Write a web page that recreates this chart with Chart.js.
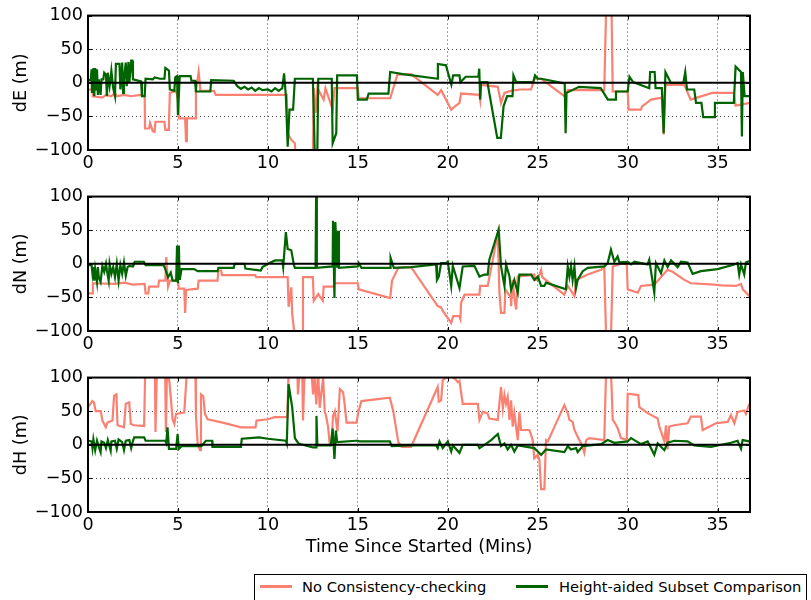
<!DOCTYPE html>
<html><head><meta charset="utf-8">
<script src="https://cdn.jsdelivr.net/npm/chart.js@4"></script>
<style>
body{margin:0;background:#fff;width:811px;height:600px;overflow:hidden;position:relative;}
.panel{position:absolute;left:0;width:811px;}
#legend{position:absolute;left:254px;top:574px;width:553px;height:40px;border:1px solid #000;box-sizing:border-box;font-family:"DejaVu Sans",sans-serif;font-size:14.7px;color:#000;background:#fff;}
#legend .sw{position:absolute;top:10px;width:32px;height:3px;}
#legend .tx{position:absolute;top:2px;white-space:nowrap;line-height:20px;}
</style></head>
<body>
<div class="panel" style="top:0"><canvas id="c1" width="811" height="180" style="width:811px;height:180px"></canvas></div>
<div class="panel" style="top:181px"><canvas id="c2" width="811" height="180" style="width:811px;height:180px"></canvas></div>
<div class="panel" style="top:362px"><canvas id="c3" width="811" height="200" style="width:811px;height:200px"></canvas></div>
<div id="legend">
  <div class="sw" style="left:5px;background:#fa8072"></div><div class="tx" style="left:47px">No Consistency-checking</div>
  <div class="sw" style="left:261px;background:#006400"></div><div class="tx" style="left:304px">Height-aided Subset Comparison</div>
</div>
<script>
const X_TICKS = [0,5,10,15,20,25,30,35];
const Y_TICKS = [-100,-50,0,50,100];
const X_MAX = 36.8;
const SERIES_NAMES = ['No Consistency-checking','Height-aided Subset Comparison'];

const dE_noCheck = [[0,-10],[0.25,-10],[0.27,-20],[0.8,-22],[1.0,-18],[1.3,-20],[1.5,-15],[1.6,-20],[2.0,-18],[2.4,-20],[2.9,-18],[3.15,-20],[3.17,-68],[3.4,-68],[3.45,-60],[3.6,-72],[3.7,-73],[3.75,-58],[4.25,-58],[4.3,-70],[4.45,-70],[4.5,-60],[4.55,-15],[4.9,-12],[5.0,-25],[5.05,-53],[5.4,-53],[5.45,-87],[5.5,-53],[5.95,-53],[6.0,-12],[6.15,16],[6.25,-12],[7.0,-12],[7.1,-18],[11.05,-18],[11.1,-75],[11.3,-85],[11.5,-90],[11.55,-115],[12.5,-115],[12.55,-8],[12.65,-45],[12.75,-8],[13.1,-25],[13.2,-8],[13.6,-40],[13.7,-8],[15.0,-8],[15.05,-23],[16.8,-23],[17.2,12],[17.96,13],[19.44,-18],[19.63,-11],[20.19,-40],[20.4,-35],[20.65,-30],[20.74,-16],[21.76,-18],[21.8,-25],[21.85,-3],[22.78,-6],[22.96,-30],[23.15,-15],[23.5,-12],[24.0,-10],[24.63,-10],[24.81,6],[25.19,6],[26.48,-20],[26.67,-11],[28.7,-11],[28.8,110],[29.1,110],[29.17,-13],[30.0,-13],[30.05,-40],[30.74,-40],[30.8,-35],[31.3,-25],[31.9,-22],[32.0,-77],[32.1,-3],[33.15,-3],[33.5,-25],[34.7,-15],[35.9,-15],[36.0,-34],[36.8,-30]];

const dE_subset = [[0,4],[0.15,4],[0.2,20],[0.22,-15],[0.3,22],[0.35,-20],[0.4,22],[0.45,-10],[0.5,20],[0.55,-18],[0.6,5],[0.7,-18],[0.75,5],[0.85,5],[0.9,15],[1.0,12],[1.05,-20],[1.1,15],[1.2,-5],[1.25,5],[1.3,18],[1.4,-8],[1.5,-20],[1.55,28],[1.75,28],[1.8,-10],[1.9,30],[1.95,-15],[2.0,5],[2.1,30],[2.15,-5],[2.2,10],[2.25,31],[2.3,0],[2.4,33],[2.45,33],[2.5,5],[2.95,2],[3.0,-20],[3.15,-20],[3.2,6],[3.6,5],[3.7,8],[4.0,6],[4.25,6],[4.3,22],[4.5,18],[4.55,-10],[4.8,-12],[4.85,8],[4.95,10],[5.0,-48],[5.1,10],[5.7,10],[5.75,3],[5.95,3],[6.0,-13],[6.8,-13],[6.85,4],[8.1,3],[8.3,-5],[8.5,-9],[8.7,-6],[8.9,-10],[9.1,-7],[9.3,-12],[9.5,-8],[9.7,-11],[10.0,-10],[10.2,-13],[10.4,-8],[10.6,-12],[10.8,-8],[10.9,14],[11.0,-20],[11.1,-95],[11.2,-40],[11.4,-40],[11.5,6],[12.5,6],[12.6,-100],[12.75,-100],[12.8,6],[13.55,6],[13.6,-90],[13.8,-75],[13.85,11],[14.95,11],[15.0,-25],[15.5,-25],[15.6,-16],[16.7,-16],[16.8,16],[17.5,13],[19.44,6],[19.45,28],[19.9,26],[20.0,16],[20.2,-3],[20.3,11],[20.65,11],[20.7,1],[21.0,9],[21.7,9],[21.75,21],[21.8,-25],[21.85,1],[22.2,1],[22.75,-82],[22.95,-82],[23.1,-35],[23.3,-20],[23.6,-20],[23.65,11],[23.8,1],[24.75,1],[24.85,11],[25.0,6],[25.2,6],[26.5,-1],[26.55,-75],[26.6,-15],[27.3,-6],[28.5,-8],[28.9,-25],[29.3,-25],[29.35,-13],[30.0,-13],[30.1,9],[30.3,1],[31.2,-8],[31.25,16],[31.5,16],[31.55,-8],[31.9,-8],[32.0,-75],[32.1,16],[32.4,0],[33.1,0],[33.2,16],[33.3,-10],[33.7,-10],[33.8,-30],[34.1,-30],[34.2,-51],[34.8,-51],[34.85,-30],[35.9,-30],[36.0,24],[36.3,16],[36.35,-80],[36.4,16],[36.5,-20],[36.8,-20]];

const dN_noCheck = [[0,-44],[0.25,-44],[0.27,-29],[1.5,-30],[2.0,-28],[2.5,-31],[3.15,-30],[3.2,-44],[3.35,-44],[3.4,-34],[3.9,-34],[3.95,-25],[4.3,-25],[4.35,10],[4.45,-34],[4.55,-25],[5.0,-25],[5.05,-37],[5.35,-37],[5.4,-73],[5.45,-39],[6.1,-37],[6.15,-25],[7.2,-25],[7.25,-10],[7.4,-10],[7.45,-17],[9.3,-17],[9.35,-20],[11.1,-20],[11.15,-64],[11.3,-35],[11.35,-74],[11.5,-110],[11.9,-110],[11.95,-20],[12.5,-20],[12.55,-55],[12.8,-45],[13.05,-55],[13.1,-34],[13.65,-34],[13.7,-29],[15.0,-29],[15.05,-38],[16.8,-51],[16.9,-25],[17.25,-6],[17.96,-5],[19.44,-63],[19.63,-65],[19.72,-70],[20.19,-88],[20.3,-78],[20.65,-78],[20.7,-82],[20.74,-58],[20.93,-46],[21.76,-46],[21.8,-33],[22.22,-33],[22.78,45],[22.87,-43],[22.96,-73],[23.15,-73],[23.2,-38],[23.5,-50],[23.52,-63],[23.61,-24],[23.7,-50],[23.8,-68],[23.89,-19],[24.81,-16],[24.85,-24],[25.0,-24],[25.19,-9],[25.25,-20],[26.48,-46],[26.67,-33],[27.04,-48],[27.13,-24],[27.78,-16],[28.52,-9],[28.7,-4],[28.8,-110],[29.07,-110],[29.17,-4],[29.63,0],[29.95,0],[30.0,-38],[30.56,-43],[30.74,-33],[31.48,-31],[32.04,-14],[32.22,-9],[32.5,-12],[33.15,-24],[33.52,-29],[34.81,-31],[35.2,-32],[36.02,-33],[36.3,-30],[36.4,-38],[36.76,-48]];

const dN_subset = [[0,-2],[0.2,-2],[0.25,-15],[0.3,-5],[0.35,-25],[0.4,-8],[0.5,-27],[0.55,-5],[0.6,-20],[0.7,-27],[0.8,-3],[0.9,-12],[1.0,0],[1.05,-10],[1.15,-25],[1.2,0],[1.3,-15],[1.4,-5],[1.5,-20],[1.6,0],[1.7,-25],[1.8,-2],[1.9,-15],[2.0,2],[2.1,-18],[2.2,-5],[2.3,-3],[2.5,-4],[2.6,3],[3.1,3],[3.2,-2],[4.2,-2],[4.3,-8],[4.45,-20],[4.6,-13],[4.7,-25],[4.9,-25],[4.95,27],[5.0,-29],[5.05,27],[5.1,-24],[5.2,-8],[5.9,-8],[6.1,-11],[7.2,-11],[7.25,-6],[8.1,-6],[8.15,0],[8.7,0],[8.75,-7],[9.6,-10],[9.7,-5],[10.0,0],[10.4,5],[10.8,5],[10.85,-5],[11.0,47],[11.1,22],[11.3,20],[11.45,-2],[11.5,-6],[12.65,-6],[12.68,100],[12.72,-6],[13.6,-4],[13.62,64],[13.7,-51],[13.75,62],[13.85,-6],[13.9,49],[13.95,-6],[15.0,-4],[15.05,1],[15.2,-6],[16.8,-6],[16.82,9],[17.0,-6],[17.96,-5],[19.35,-1],[19.4,-24],[19.5,-19],[19.63,1],[19.9,1],[20.0,3],[20.19,-33],[20.28,-3],[20.65,-36],[20.83,-4],[21.48,-3],[21.76,-19],[22.04,-16],[22.22,-16],[22.31,6],[22.83,51],[22.96,-4],[23.15,-33],[23.24,-1],[23.43,-19],[23.52,-39],[23.7,-24],[23.89,-43],[23.98,-16],[24.63,-16],[24.81,-24],[25.0,-19],[25.19,-33],[25.37,-33],[25.46,-28],[26.57,-38],[26.67,-4],[26.76,-19],[26.85,-4],[26.94,-24],[27.04,-4],[27.13,-36],[27.22,-24],[27.5,-11],[27.78,-6],[28.7,-4],[28.89,1],[29.07,21],[29.26,3],[29.44,11],[29.54,2],[30.0,3],[30.19,-1],[30.37,3],[31.11,-1],[31.2,6],[31.48,-43],[31.57,1],[31.85,-14],[32.04,5],[32.22,-5],[32.41,5],[32.78,-5],[32.96,3],[33.33,2],[33.61,-15],[34.07,-11],[35.0,-8],[35.93,-1],[36.11,1],[36.2,-16],[36.3,-1],[36.48,-16],[36.57,2],[36.76,4]];

const dH_noCheck = [[0,56],[0.24,65],[0.33,63],[0.43,50],[0.71,50],[0.8,36],[0.99,26],[1.08,33],[1.36,36],[1.45,73],[1.58,75],[1.64,29],[2.0,26],[2.1,61],[2.29,63],[2.38,31],[2.57,29],[3.12,28],[3.18,110],[3.72,110],[3.75,19],[3.83,110],[4.29,110],[4.33,19],[4.39,110],[4.52,95],[4.61,68],[4.7,38],[4.8,31],[4.89,46],[5.35,48],[5.5,110],[5.97,110],[6.0,43],[6.1,0],[6.23,-8],[6.28,75],[6.41,72],[6.5,46],[6.65,38],[7.49,33],[8.51,26],[9.31,26],[9.37,36],[10.0,38],[10.37,41],[11.08,41],[11.15,110],[11.64,110],[11.67,75],[11.77,110],[11.91,110],[11.95,36],[12.04,110],[12.42,110],[12.51,75],[12.6,100],[12.69,60],[12.79,110],[12.88,55],[13.07,100],[13.16,50],[13.25,41],[13.35,26],[13.44,0],[13.53,0],[13.62,43],[13.72,50],[13.87,20],[14.0,83],[14.18,78],[14.27,60],[14.37,33],[14.93,33],[15.02,48],[15.2,65],[16.78,70],[16.97,50],[17.25,4],[17.43,-3],[17.96,-3],[19.44,86],[19.5,64],[19.63,66],[19.72,96],[19.91,100],[20.19,102],[20.4,98],[20.56,93],[20.65,95],[20.74,78],[20.83,61],[21.67,61],[21.76,37],[21.94,49],[22.2,47],[22.31,39],[22.78,37],[22.96,86],[23.06,54],[23.15,74],[23.24,61],[23.33,71],[23.43,37],[23.52,66],[23.61,27],[23.7,47],[23.89,7],[23.98,49],[24.07,22],[24.54,22],[24.72,7],[24.81,-20],[25.0,-15],[25.09,-22],[25.19,-66],[25.37,-66],[25.46,7],[25.56,5],[26.48,59],[26.67,47],[26.76,37],[26.94,34],[27.04,22],[27.22,12],[27.41,2],[27.5,-5],[27.59,-12],[27.69,7],[27.87,10],[28.7,7],[28.8,110],[29.07,110],[29.17,37],[29.3,32],[29.44,25],[29.63,10],[29.95,7],[30.0,76],[30.59,74],[30.65,56],[31.11,47],[31.67,39],[31.76,27],[32.04,5],[32.13,29],[32.22,-7],[32.31,27],[32.59,29],[33.33,32],[33.52,42],[34.07,42],[34.17,22],[34.91,32],[35.56,34],[35.74,44],[35.93,32],[36.11,49],[36.48,51],[36.57,46],[36.76,61]];

const dH_subset = [[0,6],[0.2,5],[0.25,-5],[0.3,8],[0.4,-8],[0.5,6],[0.6,-3],[0.7,-11],[0.75,5],[0.9,3],[1.0,-5],[1.1,7],[1.26,-9],[1.3,5],[1.5,6],[1.6,-6],[1.7,8],[1.9,4],[2.0,-8],[2.1,6],[2.3,7],[2.4,-5],[2.5,6],[2.57,11],[3.12,11],[3.2,6],[4.3,6],[4.35,3],[4.42,26],[4.5,-6],[4.9,-6],[4.98,16],[5.05,-6],[5.2,-2],[6.3,-2],[6.55,6],[6.9,6],[6.92,-3],[8.5,-3],[8.55,9],[9.0,10],[9.5,11],[10.0,9],[11.0,6],[11.05,2],[11.15,90],[11.35,56],[11.5,10],[11.7,2],[12.5,-4],[12.68,-4],[12.7,43],[12.75,-1],[13.5,-1],[13.6,24],[13.7,-21],[13.78,21],[13.85,4],[14.9,6],[15.0,6],[15.1,5],[16.78,5],[16.88,-2],[17.96,-1],[19.35,-1],[19.44,-5],[19.54,5],[19.72,-5],[20.0,5],[20.19,-10],[20.28,-1],[20.65,-12],[20.83,0],[21.67,0],[21.76,-5],[22.04,0],[22.41,7],[22.78,16],[22.96,-2],[23.15,2],[23.33,-7],[23.52,0],[23.7,-10],[23.89,-1],[24.81,-5],[25.0,-10],[25.19,-15],[25.46,-7],[26.48,-11],[26.67,-2],[26.85,-7],[27.13,-5],[27.22,-11],[27.5,-2],[28.52,1],[28.89,7],[29.26,3],[30.0,5],[30.19,10],[30.37,7],[30.74,1],[31.11,5],[31.48,-15],[31.67,2],[32.04,-8],[32.22,3],[32.59,6],[33.33,5],[33.7,-1],[34.63,-3],[35.19,0],[35.74,3],[36.11,6],[36.3,-6],[36.39,7],[36.76,5]];

const RED = '#fa8072';
const GREEN = '#006400';
const FONT = "'DejaVu Sans', sans-serif";
const FONT_SIZE = 17.6;

const framePlugin = {
  id: 'frame',
  afterDatasetsDraw(chart) {
    const {ctx, chartArea: a, scales: {x, y}} = chart;
    ctx.save();
    ctx.strokeStyle = '#000';
    ctx.lineWidth = 2;
    const y0 = y.getPixelForValue(0);
    ctx.beginPath(); ctx.moveTo(a.left, y0); ctx.lineTo(a.right, y0); ctx.stroke();
    ctx.lineWidth = 1;
    ctx.beginPath();
    x.ticks.forEach(t => {
      const px = Math.round(x.getPixelForValue(t.value)) + 0.5;
      ctx.moveTo(px, a.top); ctx.lineTo(px, a.top + 4);
      ctx.moveTo(px, a.bottom); ctx.lineTo(px, a.bottom - 4);
    });
    y.ticks.forEach(t => {
      const py = Math.round(y.getPixelForValue(t.value)) + 0.5;
      ctx.moveTo(a.left, py); ctx.lineTo(a.left + 4, py);
      ctx.moveTo(a.right, py); ctx.lineTo(a.right - 4, py);
    });
    ctx.stroke();
    ctx.lineWidth = 2;
    ctx.strokeRect(a.left, a.top, a.right - a.left, a.bottom - a.top);
    ctx.restore();
  }
};

function toXY(arr) { return arr.map(p => ({x: p[0], y: p[1]})); }

function makeChart(id, yTitle, red, green, showXTitle, xHeight) {
  return new Chart(document.getElementById(id), {
    type: 'line',
    data: {
      datasets: [
        {label: SERIES_NAMES[1], data: toXY(green), borderColor: GREEN, borderWidth: 2.2, order: 1},
        {label: SERIES_NAMES[0], data: toXY(red), borderColor: RED, borderWidth: 2.2, order: 2}
      ]
    },
    options: {
      responsive: false,
      animation: false,
      events: [],
      layout: {padding: {top: 15, right: 61, left: 0, bottom: 0}},
      elements: {point: {radius: 0}, line: {tension: 0}},
      plugins: {legend: {display: false}, tooltip: {enabled: false}},
      scales: {
        x: {
          type: 'linear', min: 0, max: X_MAX,
          afterBuildTicks: s => { s.ticks = X_TICKS.map(v => ({value: v})); },
          afterFit: s => { s.height = xHeight; },
          ticks: {font: {family: FONT, size: FONT_SIZE}, color: '#000', padding: 3, maxRotation: 0, autoSkip: false},
          grid: {color: 'rgba(0,0,0,0.75)', lineWidth: 1, drawTicks: false},
          border: {display: false, dash: [1, 3]},
          title: {display: showXTitle, text: 'Time Since Started (Mins)', font: {family: FONT, size: FONT_SIZE}, color: '#000', padding: {top: 0, bottom: 4}}
        },
        y: {
          min: -100, max: 100,
          afterBuildTicks: s => { s.ticks = Y_TICKS.map(v => ({value: v})); },
          afterFit: s => { s.width = 88; },
          ticks: {font: {family: FONT, size: FONT_SIZE}, color: '#000', padding: 5,
                  callback: v => v < 0 ? '\u2212' + Math.abs(v) : String(v)},
          grid: {color: 'rgba(0,0,0,0.75)', lineWidth: 1, drawTicks: false},
          border: {display: false, dash: [1, 3]},
          title: {display: true, text: yTitle, font: {family: FONT, size: FONT_SIZE}, color: '#000', padding: {top: 11, bottom: 0}}
        }
      }
    },
    plugins: [framePlugin]
  });
}

makeChart('c1', 'dE (m)', dE_noCheck, dE_subset, false, 30);
makeChart('c2', 'dN (m)', dN_noCheck, dN_subset, false, 30);
makeChart('c3', 'dH (m)', dH_noCheck, dH_subset, true, 50);
</script>
</body></html>
